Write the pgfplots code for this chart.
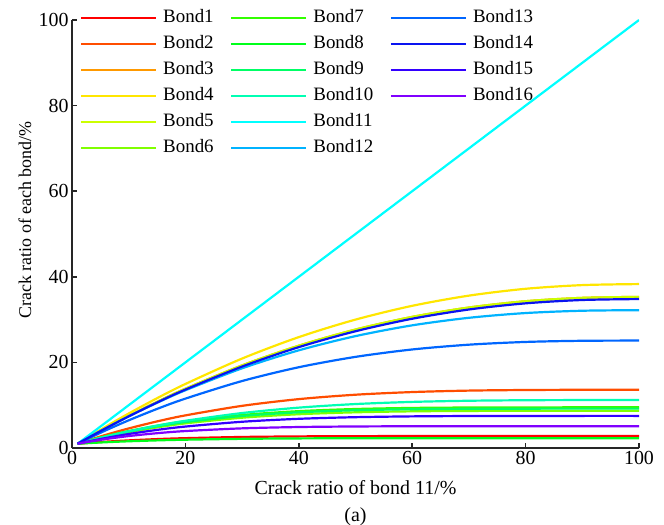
\documentclass[border=0pt]{standalone}
\usepackage{fontspec}
\setmainfont{Liberation Serif}
\usepackage{pgfplots}
\usepackage{pgfplotstable}
\pgfplotsset{compat=1.18}
\definecolor{c1}{HTML}{FF0000}
\definecolor{c2}{HTML}{FF4D00}
\definecolor{c3}{HTML}{FF9900}
\definecolor{c4}{HTML}{FFE600}
\definecolor{c5}{HTML}{CCFF00}
\definecolor{c6}{HTML}{80FF00}
\definecolor{c7}{HTML}{33FF00}
\definecolor{c8}{HTML}{00FF1A}
\definecolor{c9}{HTML}{00FF66}
\definecolor{c10}{HTML}{00FFB3}
\definecolor{c11}{HTML}{00FFFF}
\definecolor{c12}{HTML}{00B3FF}
\definecolor{c13}{HTML}{0066FF}
\definecolor{c14}{HTML}{0A14F0}
\definecolor{c15}{HTML}{3300FF}
\definecolor{c16}{HTML}{8000FF}
\pgfplotstableread{
x   b1   b2    b3    b4    b5    b6   b7   b8   b9   b10   b11  b12   b13   b14   b15  b16
1   1    1     1     1     1     1    1    1    1    1     1    1     1     1     1    1
3   1.21 1.87  2.51  2.64  2.51  1.68 1.75 1.15 1.72 1.70  3    2.49  2.29  2.48  1.57 1.47
6   1.48 3.09  4.70  5.02  4.70  2.60 2.77 1.35 2.71 2.69  6    4.65  4.15  4.64  2.35 2.10
10  1.78 4.57  7.49  8.06  7.49  3.69 3.96 1.57 3.86 3.89  10   7.38  6.47  7.39  3.27 2.79
15  2.08 6.21  10.77 11.63 10.77 4.82 5.22 1.78 5.07 5.22  15   10.56 9.13  10.63 4.23 3.46
20  2.30 7.62  13.84 14.96 13.84 5.75 6.24 1.94 6.06 6.36  20   13.49 11.54 13.65 5.01 3.96
30  2.58 9.85  19.30 20.90 19.30 7.08 7.71 2.14 7.48 8.17  30   18.62 15.65 19.03 6.13 4.59
40  2.71 11.42 23.90 25.91 23.90 7.89 8.61 2.24 8.34 9.43  40   22.82 18.87 23.57 6.82 4.90
50  2.77 12.45 27.67 30.00 27.67 8.34 9.11 2.28 8.82 10.27 50   26.14 21.29 27.28 7.20 5.03
60  2.79 13.07 30.63 33.22 30.63 8.57 9.36 2.29 9.06 10.77 60   28.66 23.02 30.20 7.39 5.08
70  2.80 13.41 32.82 35.60 32.82 8.66 9.46 2.30 9.16 11.04 70   30.42 24.14 32.36 7.47 5.10
80  2.80 13.55 34.29 37.20 34.29 8.69 9.49 2.30 9.19 11.16 80   31.53 24.78 33.80 7.49 5.10
90  2.80 13.60 35.08 38.06 35.08 8.70 9.50 2.30 9.20 11.20 90   32.07 25.05 34.58 7.50 5.10
100 2.80 13.60 35.30 38.30 35.30 8.70 9.50 2.30 9.20 11.20 100  32.20 25.10 34.80 7.50 5.10
}\data
\begin{document}
\begin{tikzpicture}
\useasboundingbox (-72bp,-77bp) rectangle (592bp,448bp);
\begin{axis}[
  scale only axis, width=567bp, height=428bp,
  xmin=0, xmax=100, ymin=0, ymax=100,
  axis x line*=bottom, axis y line*=left,
  xtick={0,20,...,100}, ytick={0,20,...,100},
  tick align=inside, major tick length=5bp,
  every tick/.style={black!85, line width=1.6bp},
  axis line style={black!85, line width=1.6bp},
  font=\fontsize{20}{27}\selectfont,
  tick label style={font=\fontsize{20}{24}\selectfont},
  /pgf/number format/assume math mode=true,
  xlabel={Crack ratio of bond 11/\%\\(a)},
  xlabel style={align=center, at={(axis description cs:0.5,0)}, anchor=north, yshift=-29bp},
  ylabel={Crack ratio of each bond/\%},
  ylabel style={at={(axis description cs:-0.0829,0.533)}, anchor=center, font=\fontsize{18}{22}\selectfont},
  legend image code/.code={\draw[#1] (0bp,0bp) -- (75bp,0bp);},
  legend columns=3,
  legend cell align=left,
  legend style={draw=none, fill=none, inner sep=0pt, outer sep=0pt,
    at={(axis description cs:0,1)}, anchor=north west, xshift=8bp, yshift=11bp,
    font=\fontsize{19}{23}\selectfont,
    nodes={text height=14bp, text depth=4bp, inner sep=0pt},
    row sep=8bp,
    /tikz/every odd column/.append style={column sep=6bp},
    /tikz/every even column/.append style={column sep=16.5bp}},
]
\pgfplotsinvokeforeach{1,...,16}{
  \addplot[color=c#1, line width=2.2bp, smooth, forget plot] table[x=x, y=b#1] {\data};
}
\addlegendimage{c1, line width=2.2bp}\addlegendentry{Bond1}
\addlegendimage{c7, line width=2.2bp}\addlegendentry{Bond7}
\addlegendimage{c13, line width=2.2bp}\addlegendentry{Bond13}
\addlegendimage{c2, line width=2.2bp}\addlegendentry{Bond2}
\addlegendimage{c8, line width=2.2bp}\addlegendentry{Bond8}
\addlegendimage{c14, line width=2.2bp}\addlegendentry{Bond14}
\addlegendimage{c3, line width=2.2bp}\addlegendentry{Bond3}
\addlegendimage{c9, line width=2.2bp}\addlegendentry{Bond9}
\addlegendimage{c15, line width=2.2bp}\addlegendentry{Bond15}
\addlegendimage{c4, line width=2.2bp}\addlegendentry{Bond4}
\addlegendimage{c10, line width=2.2bp}\addlegendentry{Bond10}
\addlegendimage{c16, line width=2.2bp}\addlegendentry{Bond16}
\addlegendimage{c5, line width=2.2bp}\addlegendentry{Bond5}
\addlegendimage{c11, line width=2.2bp}\addlegendentry{Bond11}
\addlegendimage{empty legend}\addlegendentry{}
\addlegendimage{c6, line width=2.2bp}\addlegendentry{Bond6}
\addlegendimage{c12, line width=2.2bp}\addlegendentry{Bond12}
\end{axis}
\end{tikzpicture}
\end{document}
